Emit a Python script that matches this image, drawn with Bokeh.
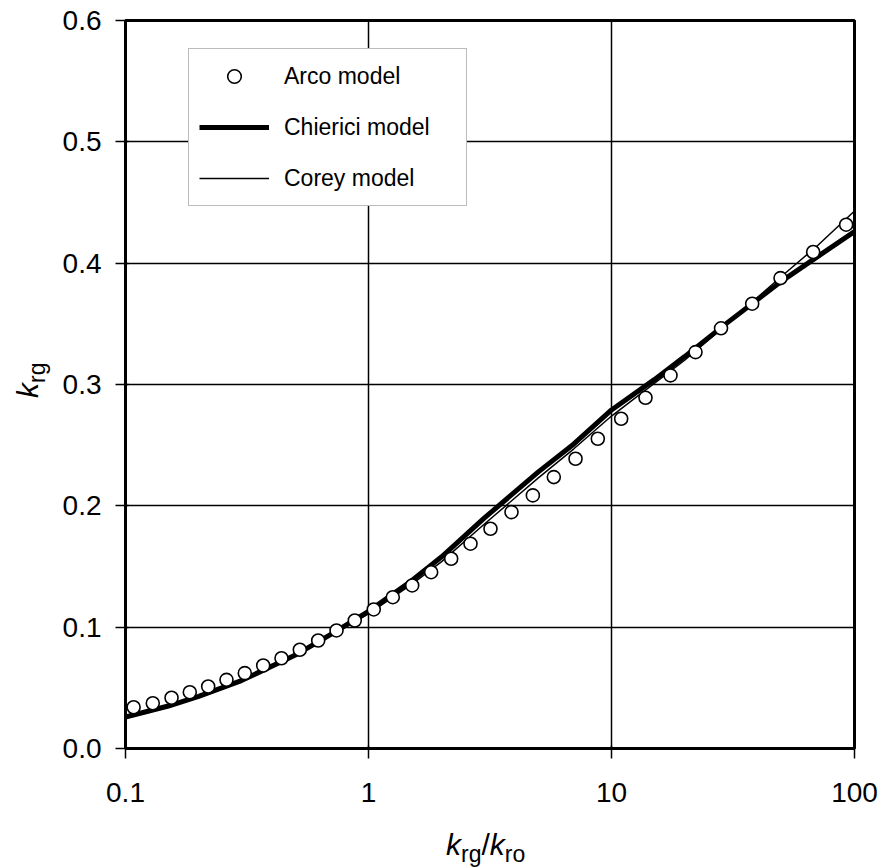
from bokeh.plotting import figure
from bokeh.models import Range1d, FixedTicker, PrintfTickFormatter, Legend, LegendItem, Div
from bokeh.layouts import row, column
from bokeh.embed import file_html
from bokeh.resources import INLINE

# ---- data ----
arco_x = [0.108, 0.1295, 0.1547, 0.1839, 0.2189, 0.2604, 0.3097, 0.3687, 0.4385, 0.5216,
          0.6209, 0.7385, 0.878, 1.051, 1.259, 1.513, 1.811, 2.189, 2.629, 3.177,
          3.877, 4.746, 5.789, 7.112, 8.782, 10.96, 13.80, 17.49, 22.17, 28.23,
          37.93, 49.6, 67.6, 92.4]
arco_y = [0.0340, 0.0373, 0.0418, 0.0464, 0.0511, 0.0566, 0.0621, 0.0684, 0.0744, 0.0814,
          0.0890, 0.0973, 0.1055, 0.1146, 0.1247, 0.1344, 0.1453, 0.1564, 0.1688, 0.1811,
          0.1948, 0.2086, 0.2237, 0.2388, 0.2553, 0.2718, 0.2891, 0.3075, 0.3267, 0.3463,
          0.3666, 0.3877, 0.4092, 0.4317]

chierici_x = [0.1, 0.15, 0.2, 0.3, 0.5, 0.7, 1, 1.5, 2, 3, 5, 7, 10, 15, 20, 30, 50, 70, 100]
chierici_y = [0.026, 0.035, 0.043, 0.056, 0.077, 0.094, 0.113, 0.138, 0.158, 0.190, 0.228,
              0.251, 0.279, 0.304, 0.323, 0.351, 0.385, 0.405, 0.426]

corey_x = [0.1, 0.15, 0.2, 0.3, 0.5, 0.7, 1, 1.5, 2, 3, 5, 7, 10, 15, 20, 30, 50, 70, 100]
corey_y = [0.025, 0.034, 0.042, 0.055, 0.076, 0.093, 0.111, 0.135, 0.154, 0.185, 0.223,
           0.247, 0.274, 0.301, 0.320, 0.350, 0.389, 0.414, 0.443]

x_ticks = [0.1, 1, 10, 100]
x_tick_labels = ["0.1", "1", "10", "100"]
y_ticks = [0.0, 0.1, 0.2, 0.3, 0.4, 0.5, 0.6]
series_names = ["Arco model", "Chierici model", "Corey model"]

FONT = "Liberation Sans"
YLAB_W = 58          # width of the column holding the rotated y title
FIG_TOP = 20
FIG_BOTTOM = 60
XLAB_H = 60

p = figure(x_axis_type="log", x_range=Range1d(0.1, 100), y_range=Range1d(0, 0.6),
           frame_width=729, frame_height=728,
           min_border_left=125 - YLAB_W, min_border_right=24,
           min_border_top=FIG_TOP, min_border_bottom=FIG_BOTTOM,
           output_backend="svg", toolbar_location=None, margin=0)

p.outline_line_color = "black"
p.outline_line_width = 3
p.background_fill_color = "white"
p.border_fill_color = "white"

for ax in (p.xaxis[0], p.yaxis[0]):
    ax.axis_line_color = "black"
    ax.axis_line_width = 2.5
    ax.major_tick_line_color = "black"
    ax.major_tick_line_width = 1.5
    ax.major_tick_out = 10
    ax.major_tick_in = 3
    ax.minor_tick_line_color = None
    ax.major_label_text_font = FONT
    ax.major_label_text_font_size = "28px"
    ax.major_label_text_color = "black"

p.xaxis.ticker = FixedTicker(ticks=x_ticks)
p.xaxis.major_label_overrides = dict(zip(x_ticks, x_tick_labels))
p.xaxis.major_label_standoff = 24
p.yaxis.ticker = FixedTicker(ticks=y_ticks)
p.yaxis.formatter = PrintfTickFormatter(format="%.1f")
p.yaxis.major_label_standoff = 14

p.xgrid.ticker = FixedTicker(ticks=x_ticks)
p.ygrid.ticker = FixedTicker(ticks=y_ticks)
for g in (p.xgrid[0], p.ygrid[0]):
    g.grid_line_color = "black"
    g.grid_line_width = 1.5
    g.grid_line_alpha = 1.0

r_corey = p.line(corey_x, corey_y, line_color="black", line_width=1.5)
r_chier = p.line(chierici_x, chierici_y, line_color="black", line_width=5)
r_arco = p.scatter(arco_x, arco_y, marker="circle", size=13, fill_color="white",
                   line_color="black", line_width=1.6)

legend = Legend(items=[LegendItem(label=series_names[0], renderers=[r_arco]),
                       LegendItem(label=series_names[1], renderers=[r_chier]),
                       LegendItem(label=series_names[2], renderers=[r_corey])],
                location=(63, 542), margin=0, padding=10, spacing=17,
                glyph_width=70, glyph_height=34, label_height=34, label_standoff=15,
                label_width=172,
                label_text_font=FONT, label_text_font_size="23px", label_text_color="black",
                border_line_color="#7a7a7a", border_line_width=1.5,
                background_fill_color="white", background_fill_alpha=1.0)
p.add_layout(legend)

FIG_H = FIG_TOP + 728 + FIG_BOTTOM          # 808
TOTAL_W = YLAB_W + (125 - YLAB_W) + 729 + 24

sub = "font-size:23px;position:relative;top:7px;"
title_html = ("<i>k</i><span style='%s'>rg</span>" % sub)
xtitle_html = title_html + "/" + ("<i>k</i><span style='%s'>ro</span>" % sub)

ydiv = Div(width=YLAB_W, height=FIG_H, margin=0, text=(
    "<div style=\"position:relative;width:%dpx;height:%dpx;\">"
    "<div style=\"position:absolute;left:13px;top:398px;transform:rotate(-90deg);"
    "transform-origin:0 0;white-space:nowrap;font-family:'Liberation Sans';"
    "font-size:30px;line-height:30px;color:black;\">%s</div></div>"
) % (YLAB_W, FIG_H, title_html))

xdiv = Div(width=TOTAL_W, height=XLAB_H, margin=0, text=(
    "<div style=\"position:relative;width:%dpx;height:%dpx;\">"
    "<div style=\"position:absolute;left:446px;top:22px;white-space:nowrap;"
    "font-family:'Liberation Sans';font-size:30px;line-height:30px;color:black;\">%s</div></div>"
) % (TOTAL_W, XLAB_H, xtitle_html))

layout = column(row(ydiv, p, margin=0, spacing=0), xdiv, margin=0, spacing=0)

open("out.html", "w").write(file_html(layout, INLINE))
